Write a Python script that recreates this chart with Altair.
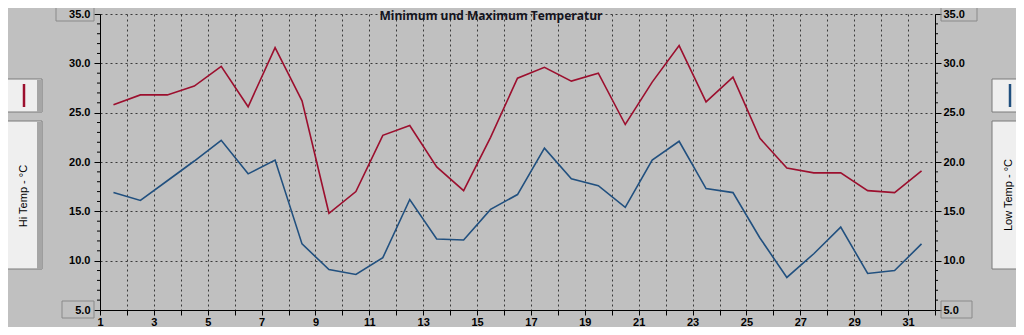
import altair as alt
import pandas as pd

# ---- data ----
days = list(range(1, 32))
hi_temp = [25.8, 26.8, 26.8, 27.7, 29.7, 25.6, 31.6, 26.2, 14.8, 17.0,
           22.7, 23.7, 19.5, 17.1, 22.5, 28.5, 29.6, 28.2, 29.0, 23.8,
           28.1, 31.8, 26.1, 28.6, 22.4, 19.4, 18.9, 18.9, 17.1, 16.9, 19.1]
lo_temp = [16.9, 16.1, 18.1, 20.1, 22.2, 18.8, 20.2, 11.7, 9.1, 8.6,
           10.3, 16.2, 12.2, 12.1, 15.2, 16.7, 21.4, 18.3, 17.6, 15.4,
           20.2, 22.1, 17.3, 16.9, 12.3, 8.3, 10.7, 13.4, 8.7, 9.0, 11.7]
x_ticks = list(range(1, 33))
y_major = [5, 10, 15, 20, 25, 30, 35]
y_minor = [v for v in range(5, 36) if v % 5 != 0]

title_text = "Minimum und Maximum Temperatur"
hi_label = "Hi Temp - °C"
lo_label = "Low Temp - °C"

HI_COLOR = "#9c0f2e"
LO_COLOR = "#21507f"
BG = "#c0c0c0"

W, H = 835, 296
LABEL_FONT = "Liberation Sans"

df = pd.DataFrame({"day": days, "hi": hi_temp, "lo": lo_temp})
df_minor = pd.DataFrame({"v": y_minor})
one = pd.DataFrame({"d": [0]})

xscale = alt.Scale(domain=[1, 32], nice=False, zero=False)
yscale = alt.Scale(domain=[5, 35], nice=False, zero=False)

base = alt.Chart(df).transform_calculate(pos="datum.day + 0.5")

x_enc = alt.X(
    "pos:Q", scale=xscale, title=None,
    axis=alt.Axis(values=x_ticks, format="d", tickSize=5, labelPadding=1,
                  labelExpr="datum.value % 2 == 1 ? datum.label : ''",
                  grid=True, gridDash=[2, 3], gridColor="#3a3a3a",
                  labelFlush=False, labelOverlap=False),
)

hi_line = base.mark_line(color=HI_COLOR, strokeWidth=1.6).encode(
    x=x_enc,
    y=alt.Y("hi:Q", scale=yscale, title=None,
            axis=alt.Axis(orient="left", values=y_major, format=".1f",
                          tickSize=6, labelPadding=4, grid=True,
                          gridDash=[2, 3], gridColor="#3a3a3a",
                          labelFlush=False, labelOverlap=False)),
)

lo_line = base.mark_line(color=LO_COLOR, strokeWidth=1.6).encode(
    x=x_enc,
    y=alt.Y("lo:Q", scale=yscale, title=None,
            axis=alt.Axis(orient="right", values=y_major, format=".1f",
                          tickSize=6, labelPadding=2, grid=False,
                          labelFlush=False, labelOverlap=False)),
)

minor_left = alt.Chart(df_minor).mark_rule(color="black", strokeWidth=1).encode(
    x=alt.value(-3), x2=alt.value(0),
    y=alt.Y("v:Q", scale=yscale, axis=None),
)
minor_right = alt.Chart(df_minor).mark_rule(color="black", strokeWidth=1).encode(
    x=alt.value(W), x2=alt.value(W + 3),
    y=alt.Y("v:Q", scale=yscale, axis=None),
)


def rect(x1, x2, y1, y2, fill, stroke=None):
    kw = dict(fill=fill)
    if stroke:
        kw.update(stroke=stroke, strokeWidth=1)
    return alt.Chart(one).mark_rect(**kw).encode(
        x=alt.value(x1), x2=alt.value(x2), y=alt.value(y1), y2=alt.value(y2))


def vline(x, y1, y2, color, width=2.5):
    return alt.Chart(one).mark_rule(color=color, strokeWidth=width).encode(
        x=alt.value(x), y=alt.value(y1), y2=alt.value(y2))


def legend_box(x1, x2, y1, y2):
    return [rect(x1, x2, y1, y2, "#efefef", "#7a7a7a"),
            rect(x2 - 5, x2, y1 + 1, y2, "#a6a6a6")]


decor = []
# label boxes around 35.0 / 5.0
decor.append(rect(-44, -6, -10, 7, "transparent", "#8a8a8a"))
decor.append(rect(-38, -6, 287, 304, "transparent", "#8a8a8a"))
decor.append(rect(841, 877, -10, 7, "transparent", "#8a8a8a"))
decor.append(rect(841, 872, 287, 304, "transparent", "#8a8a8a"))

# left legend
decor += legend_box(-93, -58, 65, 98)
decor.append(vline(-76, 70, 93, HI_COLOR))
decor += legend_box(-93, -58, 107, 255)
# right legend
decor += legend_box(892, 930, 65, 98)
decor.append(vline(910, 70, 93, LO_COLOR))
decor += legend_box(892, 930, 107, 255)

hi_text = alt.Chart(one).mark_text(
    angle=270, font=LABEL_FONT, fontSize=11, color="black",
    align="center", baseline="middle").encode(
    x=alt.value(-76), y=alt.value(182), text=alt.value(hi_label))
lo_text = alt.Chart(one).mark_text(
    angle=270, font=LABEL_FONT, fontSize=11, color="black",
    align="center", baseline="middle").encode(
    x=alt.value(909), y=alt.value(181), text=alt.value(lo_label))

title = alt.Chart(one).mark_text(
    font="Open Sans", fontSize=12, fontWeight="bold", color="#141420",
    align="center", baseline="alphabetic").encode(
    x=alt.value(391), y=alt.value(6), text=alt.value(title_text))

chart = alt.layer(
    hi_line, lo_line, minor_left, minor_right, *decor, hi_text, lo_text, title
).resolve_scale(y="independent").properties(
    width=W, height=H,
    padding={"left": 92, "top": 6, "right": 81, "bottom": 17},
    autosize=alt.AutoSizeParams(type="none"),
    background=BG,
).configure_view(stroke=None).configure_axis(
    labelFont=LABEL_FONT, labelFontSize=11, labelFontWeight="bold",
    labelColor="black", tickColor="black", domainColor="black",
    domainWidth=1, tickWidth=1, gridWidth=1, gridOpacity=1,
)

chart.save("out.html", embed_options={"renderer": "svg", "actions": False})
